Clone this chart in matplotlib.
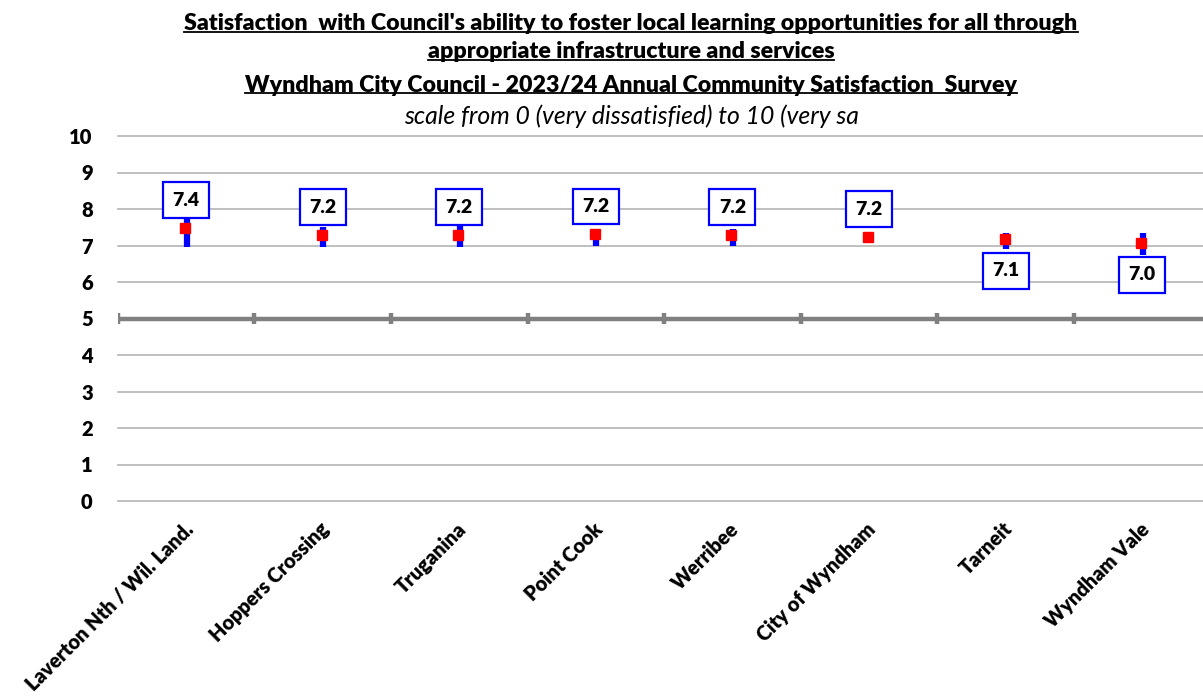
import matplotlib
matplotlib.use("Agg")
import matplotlib.pyplot as plt
import numpy as np
from matplotlib.lines import Line2D
from matplotlib.transforms import ScaledTranslation

plt.rcParams['font.family'] = ['Lato', 'DejaVu Sans']

# data
categories = ['Laverton Nth / Wil. Land.', 'Hoppers Crossing', 'Truganina', 'Point Cook',
              'Werribee', 'City of Wyndham', 'Tarneit', 'Wyndham Vale']
means = [7.48, 7.29, 7.29, 7.31, 7.29, 7.23, 7.18, 7.07]
lower = [6.96, 6.96, 6.96, 6.99, 6.99, 7.16, 6.90, 6.74]
upper = [7.90, 7.50, 7.55, 7.42, 7.45, 7.29, 7.34, 7.34]
labels = ['7.4', '7.2', '7.2', '7.2', '7.2', '7.2', '7.1', '7.0']
label_above = [True, True, True, True, True, True, False, False]

W = 'heavy'

fig = plt.figure(figsize=(12.03, 6.97), dpi=100)
ax = fig.add_axes([117.7 / 1203, 1 - 501 / 697, 8 * 136.6 / 1203, 365 / 697])

x = np.arange(len(categories))
ax.set_xlim(-0.5, len(categories) - 0.5)
ax.set_ylim(0, 10)

# grid
for v in range(0, 11):
    if v != 5:
        ax.axhline(v, color='#b4b4b4', lw=1.2, zorder=1, clip_on=False)
ax.axhline(5, color='#808080', lw=3.2, zorder=2)
ax.vlines(np.arange(len(categories) + 1) - 0.5, 4.84, 5.16, color='#808080', lw=3.2, zorder=2)

# confidence bars and means
ax.vlines(x + 0.004, lower, upper, color='#0000ff', lw=4.5, zorder=3)
ax.plot(x - 0.008, means, 's', color='#ff0000', ms=6.5, mec='#ff0000', zorder=4, ls='none')

for i in range(len(categories)):
    dy = 20 if label_above[i] else -23
    ax.annotate(labels[i], (x[i], means[i]), xytext=(0, dy), textcoords='offset points',
                ha='center', va='center', fontsize=14, fontweight=W, zorder=6,
                bbox=dict(boxstyle='square,pad=0.48', fc='white', ec='#0000ff', lw=1.6))

for s in ax.spines.values():
    s.set_visible(False)
ax.set_yticks(range(0, 11))
ax.tick_params(axis='y', length=0, pad=18, labelsize=14.5)
for t in ax.get_yticklabels():
    t.set_fontweight(W)

ax.set_xticks(x)
ax.set_xticklabels(categories, rotation=45, ha='right', va='top', rotation_mode='anchor',
                   fontsize=14.4, fontweight=W)
ax.tick_params(axis='x', length=0, pad=13)
for t in ax.get_xticklabels():
    t.set_transform(t.get_transform() + ScaledTranslation(-3 / 100, 0, fig.dpi_scale_trans))

# titles
cx = 631 / 1203
titles = ["Satisfaction  with Council's ability to foster local learning opportunities for all through",
          "appropriate infrastructure and services",
          "Wyndham City Council - 2023/24 Annual Community Satisfaction  Survey"]
title_y = [24, 52, 85]
tt = []
for s, yy in zip(titles, title_y):
    tt.append(fig.text(cx, 1 - yy / 697, s, ha='center', va='center', fontsize=16.7, fontweight=W))
fig.text(cx, 1 - 116 / 697, 'scale from 0 (very dissatisfied) to 10 (very sa', ha='center', va='center',
         fontsize=17.8, fontstyle='italic')

fig.canvas.draw()
r = fig.canvas.get_renderer()
for t in tt:
    bb = t.get_window_extent(r).transformed(fig.transFigure.inverted())
    yl = bb.y0 + 0.14 * bb.height
    fig.add_artist(Line2D([bb.x0, bb.x1], [yl, yl], transform=fig.transFigure, color='black', lw=1.3))

fig.savefig('out.png', dpi=100)
